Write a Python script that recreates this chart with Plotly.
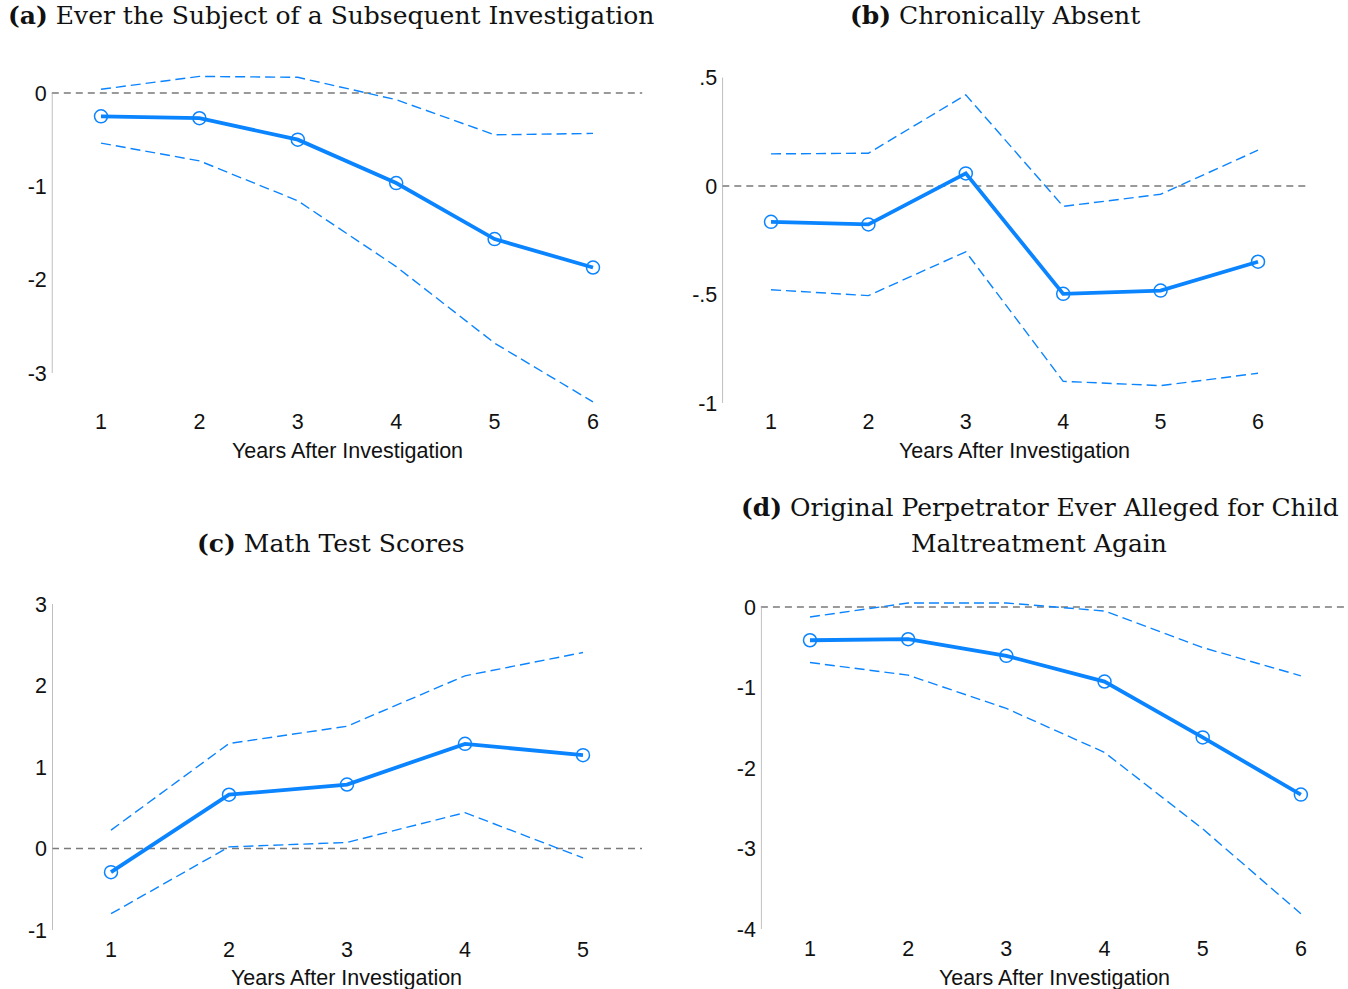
import plotly.graph_objects as go

W, H = 1348, 989

# ---------------- data ----------------
years_a = [1, 2, 3, 4, 5, 6]
est_a = [-0.25, -0.27, -0.50, -0.965, -1.565, -1.87]
hi_a = [0.04, 0.178, 0.168, -0.072, -0.448, -0.433]
lo_a = [-0.537, -0.727, -1.155, -1.86, -2.68, -3.31]

years_b = [1, 2, 3, 4, 5, 6]
est_b = [-0.165, -0.177, 0.058, -0.497, -0.482, -0.349]
hi_b = [0.148, 0.151, 0.42, -0.094, -0.038, 0.165]
lo_b = [-0.478, -0.505, -0.303, -0.90, -0.92, -0.863]

years_c = [1, 2, 3, 4, 5]
est_c = [-0.29, 0.66, 0.785, 1.284, 1.145]
hi_c = [0.225, 1.288, 1.50, 2.119, 2.405]
lo_c = [-0.80, 0.02, 0.074, 0.44, -0.115]

years_d = [1, 2, 3, 4, 5, 6]
est_d = [-0.413, -0.40, -0.607, -0.926, -1.62, -2.33]
hi_d = [-0.124, 0.05, 0.05, -0.05, -0.504, -0.855]
lo_d = [-0.69, -0.847, -1.26, -1.806, -2.756, -3.81]

yticks_a = [0, -1, -2, -3]
ylabels_a = ["0", "-1", "-2", "-3"]
yticks_b = [0.5, 0, -0.5, -1]
ylabels_b = [".5", "0", "-.5", "-1"]
yticks_c = [3, 2, 1, 0, -1]
ylabels_c = ["3", "2", "1", "0", "-1"]
yticks_d = [0, -1, -2, -3, -4]
ylabels_d = ["0", "-1", "-2", "-3", "-4"]

titles = [
    ["<b>(a)</b> Ever the Subject of a Subsequent Investigation"],
    ["<b>(b)</b> Chronically Absent"],
    ["<b>(c)</b> Math Test Scores"],
    ["<b>(d)</b> Original Perpetrator Ever Alleged for Child", "Maltreatment Again"],
]
xlabel = "Years After Investigation"

# ---------------- layout helpers ----------------
def xdom(v0, p0, v1, p1, lo, hi):
    s = (p1 - p0) / (v1 - v0)
    a = p0 + (lo - v0) * s
    b = p0 + (hi - v0) * s
    return [max(0, a / W), min(1, b / W)]

def ydom(v0, p0, v1, p1, lo, hi):
    s = (p1 - p0) / (v1 - v0)
    a = p0 + (lo - v0) * s
    b = p0 + (hi - v0) * s
    return [1 - a / H, 1 - b / H]

panels = [
    dict(x=years_a, est=est_a, hi=hi_a, lo=lo_a, yt=yticks_a, yl=ylabels_a,
         xr=[0.5, 6.5], yr=[-3.364, 0.25],
         xd=xdom(1, 101, 6, 593, 0.5, 6.5), yd=ydom(0, 93, -3, 373, -3.364, 0.25)),
    dict(x=years_b, est=est_b, hi=hi_b, lo=lo_b, yt=yticks_b, yl=ylabels_b,
         xr=[0.5, 6.5], yr=[-1.018, 0.52],
         xd=xdom(1, 771, 6, 1258, 0.5, 6.5), yd=ydom(0.5, 77.5, -1, 403, -1.018, 0.52)),
    dict(x=years_c, est=est_c, hi=hi_c, lo=lo_c, yt=yticks_c, yl=ylabels_c,
         xr=[0.5, 5.5], yr=[-1.05, 3.03],
         xd=xdom(1, 111, 5, 583, 0.5, 5.5), yd=ydom(3, 604, -1, 930, -1.05, 3.03)),
    dict(x=years_d, est=est_d, hi=hi_d, lo=lo_d, yt=yticks_d, yl=ylabels_d,
         xr=[0.5, 6.48], yr=[-4.06, 0.12],
         xd=xdom(1, 810, 6, 1301, 0.5, 6.48), yd=ydom(0, 607, -4, 929, -4.06, 0.12)),
]

BLUE = "#0a84ff"
SANS = "Liberation Sans, Arial, sans-serif"
fig = go.Figure()
shapes = []
annotations = []
tickfont = dict(family=SANS, size=21.5, color="#111")

for i, p in enumerate(panels):
    n = "" if i == 0 else str(i + 1)
    xa, ya = "x" + n, "y" + n
    for ci in (p["hi"], p["lo"]):
        fig.add_trace(go.Scatter(x=p["x"], y=ci, mode="lines", xaxis=xa, yaxis=ya,
                                 line=dict(color=BLUE, width=1.4, dash="10px,5px"),
                                 showlegend=False, hoverinfo="skip"))
    fig.add_trace(go.Scatter(x=p["x"], y=p["est"], mode="lines+markers", xaxis=xa, yaxis=ya,
                             line=dict(color=BLUE, width=3.8),
                             marker=dict(symbol="circle-open", size=13, color=BLUE,
                                         line=dict(width=1.5, color=BLUE)),
                             showlegend=False))
    fig.layout["xaxis" + n] = dict(domain=p["xd"], range=p["xr"], anchor=ya,
                                   tickvals=p["x"], ticktext=[str(v) for v in p["x"]],
                                   showgrid=False, zeroline=False, showline=False,
                                   automargin=False, fixedrange=True,
                                   ticks="", tickfont=tickfont, ticklabelstandoff=0)
    fig.layout["yaxis" + n] = dict(domain=p["yd"], range=p["yr"], anchor=xa,
                                   tickvals=p["yt"], ticktext=p["yl"],
                                   showgrid=False, zeroline=False, showline=False,
                                   automargin=False, fixedrange=True,
                                   ticks="", tickfont=tickfont, ticklabelstandoff=4)
    # zero reference line
    shapes.append(dict(type="line", xref=xa + " domain", yref=ya, x0=0, x1=1, y0=0, y1=0,
                       line=dict(color="#7a7a7a", width=1.3, dash="7px,5px"), layer="below"))
    # left axis line spanning the tick range
    shapes.append(dict(type="line", xref=xa, yref=ya, x0=p["xr"][0], x1=p["xr"][0],
                       y0=min(p["yt"]), y1=max(p["yt"]),
                       line=dict(color="#aaaaaa", width=1.5)))
    # x-axis title
    xc = (p["xd"][0] + p["xd"][1]) / 2
    ypix = 451 if i < 2 else 978
    annotations.append(dict(text=xlabel, xref="paper", yref="paper", x=xc, y=1 - ypix / H,
                            showarrow=False, xanchor="center", yanchor="middle",
                            font=dict(family=SANS, size=21.5, color="#111")))

# panel titles
title_pos = [[(331, 16)], [(995, 16)], [(331, 543)], [(1040, 507), (1039, 543)]]
for lines, poss in zip(titles, title_pos):
    for t, (tx, ty) in zip(lines, poss):
        annotations.append(dict(text=t, xref="paper", yref="paper", x=tx / W, y=1 - ty / H,
                                showarrow=False, xanchor="center", yanchor="middle",
                                font=dict(family="DejaVu Serif, serif", size=25, color="#111")))

fig.update_layout(width=W, height=H, margin=dict(l=0, r=0, t=0, b=0, pad=0),
                  paper_bgcolor="white", plot_bgcolor="white",
                  shapes=shapes, annotations=annotations, showlegend=False)

fig.write_html("out.html", config=dict(displayModeBar=False))
